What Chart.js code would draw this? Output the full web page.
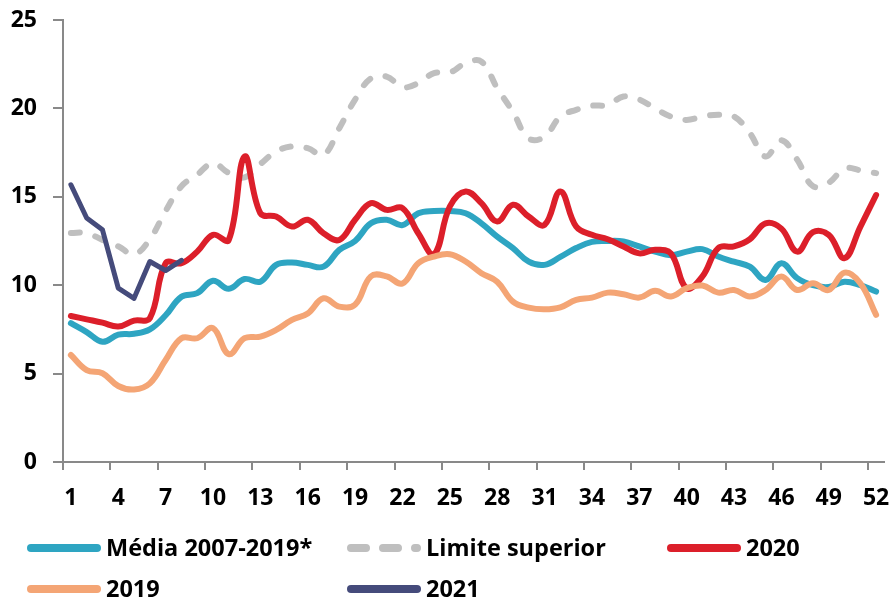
<!DOCTYPE html>
<html>
<head>
<meta charset="utf-8">
<script src="https://cdn.jsdelivr.net/npm/chart.js@4.4.1/dist/chart.umd.min.js"></script>
<style>
html,body{margin:0;padding:0;background:#ffffff;}
#wrap{width:889px;height:601px;position:relative;}
</style>
</head>
<body>
<div id="wrap"><canvas id="c" width="889" height="601"></canvas></div>
<script>
// ---- categories (weeks) ----
const weeks = ['1','2','3','4','5','6','7','8','9','10','11','12','13','14','15','16','17','18','19','20','21','22','23','24','25','26',
               '27','28','29','30','31','32','33','34','35','36','37','38','39','40','41','42','43','44','45','46','47','48','49','50','51','52'];
// ---- tick labels shown on the x axis ----
const xTickLabels = ['1','4','7','10','13','16','19','22','25','28','31','34','37','40','43','46','49','52'];
// ---- y ticks ----
const yMin = 0, yMax = 25, yStep = 5;

// ---- series ----
const media = [7.85,7.35,6.8,7.2,7.25,7.5,8.3,9.35,9.55,10.25,9.8,10.35,10.2,11.15,11.28,11.15,11.05,12.0,12.5,13.5,13.7,13.4,14.07,14.2,14.2,14.07,
               13.5,12.75,12.1,11.33,11.15,11.6,12.1,12.45,12.5,12.47,12.19,11.9,11.7,11.9,12.04,11.62,11.33,11.05,10.3,11.24,10.4,10.0,9.9,10.2,10.0,9.64];
const limite = [12.95,12.95,12.56,12.2,11.75,12.6,14.2,15.6,16.25,16.9,16.35,16.1,16.85,17.56,17.85,17.75,17.37,18.88,20.5,21.7,21.8,21.2,21.43,22.0,22.03,22.56,
                22.65,21.15,19.8,18.3,18.4,19.54,19.92,20.15,20.2,20.67,20.5,20.0,19.54,19.35,19.54,19.64,19.54,18.6,17.28,18.2,17.1,15.6,15.8,16.6,16.5,16.34];
const y2020 = [8.26,8.07,7.88,7.66,8.0,8.13,11.24,11.24,11.9,12.85,12.56,17.28,14.07,13.88,13.32,13.7,12.94,12.56,13.7,14.64,14.26,14.36,12.94,11.75,14.45,15.3,
               14.64,13.6,14.55,13.88,13.41,15.3,13.32,12.85,12.6,12.19,11.8,12.0,11.8,9.83,10.5,12.1,12.2,12.6,13.5,13.2,11.9,13.0,12.85,11.53,13.3,15.1];
const y2019 = [6.05,5.2,5.02,4.3,4.1,4.45,5.77,7.0,7.0,7.57,6.1,7.0,7.09,7.47,8.04,8.4,9.26,8.79,8.9,10.5,10.5,10.1,11.24,11.62,11.75,11.34,
               10.68,10.2,9.07,8.73,8.64,8.75,9.17,9.3,9.58,9.49,9.3,9.68,9.36,9.83,9.98,9.58,9.73,9.36,9.73,10.49,9.73,10.11,9.73,10.71,10.11,8.32];
const y2021 = [15.68,13.8,13.13,9.83,9.26,11.34,10.83,11.4];

const FONT = '"Open Sans", "DejaVu Sans", sans-serif';
const AXIS_GRAY = '#898989';

Chart.defaults.font.family = FONT;

const legendPlugin = {
  id: 'customLegend',
  afterDraw(chart) {
    const ctx = chart.ctx;
    const cols = [27, 347, 667];
    const rows = [548, 589];
    ctx.save();
    ctx.font = 'bold 23.5px ' + FONT;
    ctx.textBaseline = 'middle';
    ctx.textAlign = 'left';
    chart.data.datasets.forEach((ds, i) => {
      const x = cols[i % 3], y = rows[Math.floor(i / 3)];
      ctx.beginPath();
      ctx.lineWidth = 8;
      ctx.lineCap = 'round';
      ctx.strokeStyle = ds.borderColor;
      ctx.setLineDash(ds.borderDash ? [15, 17] : []);
      ctx.moveTo(x + 4, y);
      ctx.lineTo(x + 70, y);
      ctx.stroke();
      ctx.setLineDash([]);
      ctx.fillStyle = '#000000';
      ctx.fillText(ds.label, x + 79, y + 1);
    });
    ctx.restore();
  }
};

new Chart(document.getElementById('c'), {
  type: 'line',
  data: {
    labels: weeks,
    datasets: [
      { label: 'Média 2007-2019*', data: media, borderColor: '#2EA5C2', borderWidth: 6, tension: 0.4, order: 4 },
      { label: 'Limite superior', data: limite, borderColor: '#BFBFBF', borderWidth: 6, borderDash: [9, 16], tension: 0.4, order: 3 },
      { label: '2020', data: y2020, borderColor: '#DC1F2A', borderWidth: 6, tension: 0.4, order: 2 },
      { label: '2019', data: y2019, borderColor: '#F4A575', borderWidth: 6, tension: 0.4, order: 1 },
      { label: '2021', data: y2021, borderColor: '#454B7B', borderWidth: 5, tension: 0, order: 0 }
    ].map(d => Object.assign({ pointRadius: 0, pointHoverRadius: 0, fill: false, borderCapStyle: 'round', borderJoinStyle: 'round', cubicInterpolationMode: 'default' }, d))
  },
  options: {
    responsive: false,
    animation: false,
    devicePixelRatio: 1,
    layout: { padding: { top: 20, right: 5, bottom: 79, left: 0 } },
    plugins: { legend: { display: false }, tooltip: { enabled: false } },
    scales: {
      x: {
        offset: true,
        ticks: {
          autoSkip: false, maxRotation: 0, minRotation: 0, color: '#000', padding: 15,
          font: { size: 23, weight: 'bold' },
          callback: function (v) { const l = this.getLabelForValue(v); return xTickLabels.includes(l) ? l : ''; }
        },
        grid: {
          offset: true, drawOnChartArea: false, drawTicks: true, tickLength: 8, lineWidth: 2,
          color: c => (c.tick && xTickLabels.includes(weeks[c.index]) ? AXIS_GRAY : 'rgba(0,0,0,0)')
        },
        border: { color: AXIS_GRAY, width: 2 },
        afterFit(s) { s.height = 60; s.paddingLeft = 0; s.paddingRight = 0; }
      },
      y: {
        min: yMin, max: yMax,
        ticks: { stepSize: yStep, color: '#000', padding: 16, font: { size: 23, weight: 'bold' } },
        grid: { drawOnChartArea: false, drawTicks: true, tickLength: 10, lineWidth: 2, color: AXIS_GRAY },
        border: { color: AXIS_GRAY, width: 2 },
        afterFit(s) { s.width = 63; s.paddingTop = 0; s.paddingBottom = 0; }
      }
    }
  },
  plugins: [legendPlugin]
});
</script>
</body>
</html>
